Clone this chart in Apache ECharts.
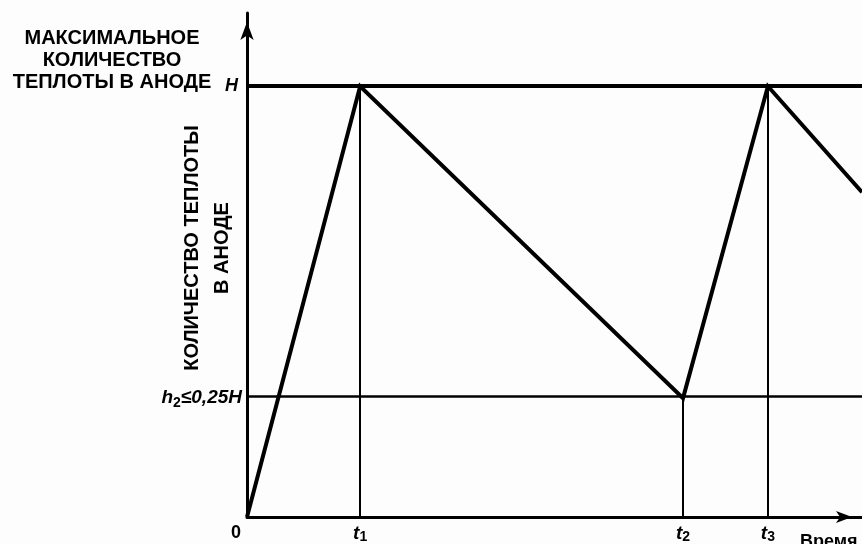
<!DOCTYPE html>
<html>
<head>
<meta charset="utf-8">
<script src="https://cdn.jsdelivr.net/npm/echarts@6/dist/echarts.min.js"></script>
<style>
html,body{margin:0;padding:0;background:#fcfdfc;}
#c{width:862px;height:544px;}
</style>
</head>
<body>
<div id="c"></div>
<script>
// ---- data ----
const timePoints = [0, 18.4, 70.9, 84.7, 100];        // 0, t1, t2, t3, end of view
const heatValues = [0, 1, 0.276, 1, 0.754];           // heat in anode (fraction of H)
const H = 1;
const h2 = 0.276;
const xTickValues = [0, 18.4, 70.9, 84.7];
const xTickLabels = ['0', 't1', 't2', 't3'];
const yTickValues = [h2, H];
const yTickLabels = ['h2≤0,25H', 'H'];
const titleLines = ['МАКСИМАЛЬНОЕ', 'КОЛИЧЕСТВО', 'ТЕПЛОТЫ В АНОДЕ'];
const yTitleLines = ['КОЛИЧЕСТВО ТЕПЛОТЫ', 'В АНОДЕ'];
const xTitle = 'Время';

const FF = '"Liberation Sans", Arial, sans-serif';
const chart = echarts.init(document.getElementById('c'), null, {renderer: 'canvas'});

const seriesData = timePoints.map((t, i) => [t, heatValues[i]]);
// vertical guide lines: t1 -> H, t2 -> h2, t3 -> H
const vLines = [1, 2, 3].map(i => [{coord: [timePoints[i], 0]}, {coord: [timePoints[i], heatValues[i]]}]);

function xLabelFmt(v) {
  const idx = xTickValues.findIndex(x => Math.abs(x - v) < 1e-6);
  const s = xTickLabels[idx];
  if (s === '0') return '{zero|0}';
  return '{it|' + s[0] + '}{sub|' + s.slice(1) + '}';
}
function yLabelFmt(v) {
  const idx = yTickValues.findIndex(y => Math.abs(y - v) < 1e-6);
  const s = yTickLabels[idx];
  if (s === 'H') return '{H|H}';
  return '{it|h}{sub|2}{n|≤0,25}{it|H}';
}

chart.setOption({
  backgroundColor: '#fcfdfc',
  animation: false,
  grid: {left: 247, right: 0, top: 13, bottom: 27, containLabel: false},
  xAxis: {
    type: 'value', min: 0, max: 100,
    splitLine: {show: false},
    axisTick: {show: false},
    axisLine: {show: true, lineStyle: {color: '#000', width: 3}, symbol: ['none', 'arrow'], symbolSize: [9, 16], symbolOffset: [0, -10]},
    axisLabel: {
      customValues: xTickValues,
      formatter: xLabelFmt,
      margin: 7,
      color: '#000',
      rich: {
        zero: {fontFamily: FF, fontWeight: 'bold', fontSize: 18, color: '#000', padding: [0, 22, 0, 0]},
        it: {fontFamily: FF, fontWeight: 'bold', fontStyle: 'italic', fontSize: 19, color: '#000', verticalAlign: 'top', lineHeight: 19},
        sub: {fontFamily: FF, fontWeight: 'bold', fontSize: 14, color: '#000', verticalAlign: 'top', lineHeight: 19, padding: [6, 0, 0, 0]}
      }
    }
  },
  yAxis: {
    type: 'value', min: 0, max: 1.17,
    splitLine: {show: false},
    axisTick: {show: false},
    axisLine: {show: true, lineStyle: {color: '#000', width: 3}, symbol: ['none', 'arrow'], symbolSize: [10, 18], symbolOffset: [0, -9]},
    axisLabel: {
      customValues: yTickValues,
      formatter: yLabelFmt,
      margin: 5,
      color: '#000',
      rich: {
        H: {fontFamily: FF, fontWeight: 'bold', fontStyle: 'italic', fontSize: 18, color: '#000', padding: [0, 4, 0, 0]},
        it: {fontFamily: FF, fontWeight: 'bold', fontStyle: 'italic', fontSize: 19, color: '#000'},
        n: {fontFamily: FF, fontWeight: 'bold', fontStyle: 'italic', fontSize: 19, color: '#000'},
        sub: {fontFamily: FF, fontWeight: 'bold', fontSize: 14, color: '#000', verticalAlign: 'top', lineHeight: 19, padding: [8, 0, 0, 0]}
      }
    }
  },
  series: [{
    type: 'line',
    data: seriesData,
    symbol: 'none',
    lineStyle: {color: '#000', width: 4, join: 'miter'},
    z: 5,
    markLine: {
      silent: true,
      symbol: ['none', 'none'],
      label: {show: false},
      animation: false,
      data: [
        {yAxis: H, lineStyle: {color: '#000', width: 4, type: 'solid'}},
        {yAxis: h2, lineStyle: {color: '#000', width: 2.5, type: 'solid'}},
        ...vLines.map(p => [Object.assign({lineStyle: {color: '#000', width: 2, type: 'solid'}}, p[0]), p[1]])
      ]
    }
  }],
  graphic: [
    {type: 'text', x: 112, y: 27, style: {
      text: titleLines.join('\n'), align: 'center', verticalAlign: 'top',
      font: 'bold 20px ' + FF, lineHeight: 22, fill: '#000'}},
    {type: 'text', x: 207, y: 248, rotation: Math.PI / 2, style: {
      text: yTitleLines.join('\n'), align: 'center', verticalAlign: 'middle',
      font: 'bold 20px ' + FF, lineHeight: 30, fill: '#000'}},
    {type: 'text', x: 800, y: 533, style: {
      text: xTitle, font: 'bold 18px ' + FF, fill: '#000', align: 'left', verticalAlign: 'top'}}
  ]
});
</script>
</body>
</html>
